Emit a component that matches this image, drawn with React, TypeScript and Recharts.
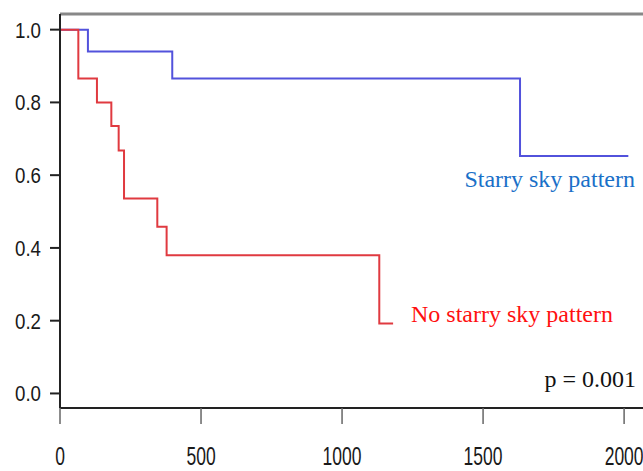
import React from "react";
import { LineChart, Line, XAxis, YAxis, ReferenceLine } from "recharts";

const blueTimes = [0, 99, 398, 1631, 2015];
const blueSurv = [1.0, 0.94, 0.866, 0.653, 0.653];
const redTimes = [0, 65, 131, 182, 208, 227, 345, 378, 1132, 1181];
const redSurv = [1.0, 0.866, 0.8, 0.735, 0.668, 0.536, 0.458, 0.38, 0.192, 0.192];
const xTicks = [0, 500, 1000, 1500, 2000];
const yTicks = [0, 0.2, 0.4, 0.6, 0.8, 1.0];
const blueLabel = "Starry sky pattern";
const redLabel = "No starry sky pattern";
const pLabel = "p = 0.001";

const blueData = blueTimes.map((t, i) => ({ t, s: blueSurv[i] }));
const redData = redTimes.map((t, i) => ({ t, s: redSurv[i] }));

const X_MAX = 2067;
const Y_MIN = -0.04;
const Y_MAX = 1.043;

const YTick = (props: any) => {
  const { x, y, payload } = props;
  const fs = 18.7;
  return (
    <text
      transform={`translate(${x},${y}) scale(1,1.2)`}
      y={fs * 0.358}
      textAnchor="end"
      fontFamily="'Liberation Sans', Arial, sans-serif"
      fontSize={fs}
      fill="#1a1a1a"
    >
      {Number(payload.value).toFixed(1)}
    </text>
  );
};

const XTick = (props: any) => {
  const { x, payload } = props;
  const fs = 17.5;
  return (
    <text
      transform={`translate(${x},456) scale(1,1.5)`}
      y={fs * 0.358}
      textAnchor="middle"
      fontFamily="'Liberation Sans', Arial, sans-serif"
      fontSize={fs}
      fill="#1a1a1a"
    >
      {payload.value}
    </text>
  );
};

export default function App() {
  return (
    <div style={{ position: "absolute", left: 0, top: 0, width: 643, height: 471, background: "#fff", overflow: "hidden" }}>
      <LineChart width={643} height={471} margin={{ top: 14, right: 0, left: 0, bottom: 0 }}>
        <XAxis
          type="number"
          dataKey="t"
          domain={[0, X_MAX]}
          ticks={xTicks}
          allowDataOverflow
          height={63}
          tickSize={16}
          tickMargin={0}
          axisLine={{ stroke: "#222", strokeWidth: 2 }}
          tickLine={{ stroke: "#666", strokeWidth: 1.5 }}
          tick={<XTick />}
          interval={0}
        />
        <YAxis
          type="number"
          domain={[Y_MIN, Y_MAX]}
          ticks={yTicks}
          allowDataOverflow
          width={60}
          tickSize={10}
          tickMargin={9}
          axisLine={{ stroke: "#222", strokeWidth: 2 }}
          tickLine={{ stroke: "#222", strokeWidth: 2 }}
          tick={<YTick />}
          interval={0}
        />
        <ReferenceLine y={Y_MAX} stroke="#888" strokeWidth={3} />
        <Line
          data={blueData}
          dataKey="s"
          type="stepAfter"
          stroke="#5252dc"
          strokeWidth={2}
          dot={false}
          isAnimationActive={false}
        />
        <Line
          data={redData}
          dataKey="s"
          type="stepAfter"
          stroke="#e03a40"
          strokeWidth={2}
          dot={false}
          isAnimationActive={false}
        />
      </LineChart>
      <svg
        width={643}
        height={471}
        style={{ position: "absolute", left: 0, top: 0, pointerEvents: "none" }}
      >
        <text x={635} y={187} textAnchor="end" fontFamily="'Liberation Serif', 'Times New Roman', serif" fontSize={24} fill="#1a70c8">
          {blueLabel}
        </text>
        <text x={411} y={322} textAnchor="start" fontFamily="'Liberation Serif', 'Times New Roman', serif" fontSize={24} fill="#ff1010">
          {redLabel}
        </text>
        <text x={636} y={387} textAnchor="end" fontFamily="'Liberation Serif', 'Times New Roman', serif" fontSize={24} fill="#111">
          {pLabel}
        </text>
      </svg>
    </div>
  );
}
